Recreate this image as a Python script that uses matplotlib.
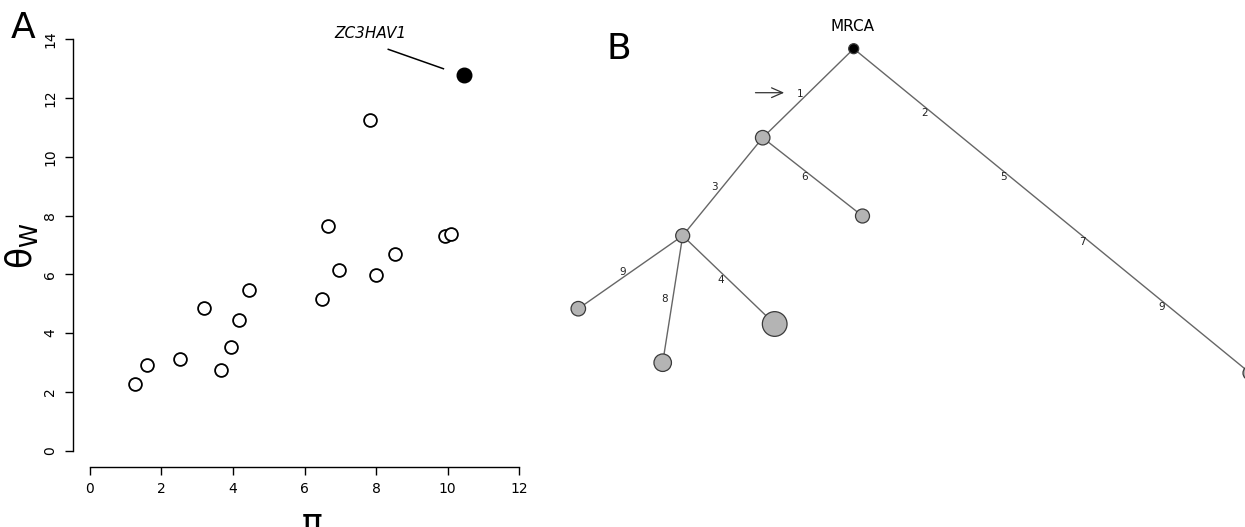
import matplotlib.pyplot as plt

# panel A: pi vs theta_W per gene
pi_vals = [1.27, 1.61, 2.53, 3.18, 3.68, 3.94, 4.17, 4.44, 6.50, 6.67,
           6.96, 7.83, 7.99, 8.53, 9.92, 10.10]
theta_vals = [2.26, 2.92, 3.11, 4.87, 2.74, 3.53, 4.46, 5.45, 5.16, 7.66,
              6.16, 11.26, 5.99, 6.70, 7.32, 7.38]
outlier_pi = [10.45]
outlier_theta = [12.78]
outlier_name = 'ZC3HAV1'
x_ticks = [0, 2, 4, 6, 8, 10, 12]
y_ticks = [0, 2, 4, 6, 8, 10, 12, 14]

# panel B: haplotype tree (layout coordinates)
node_x = [853.7, 762.7, 682.7, 862.5, 578.3, 662.7, 774.7, 1250.0]
node_y = [48.7, 137.7, 235.7, 216.0, 308.7, 362.7, 324.0, 373.0]
node_size = [10, 14.5, 14, 14, 14.5, 17.5, 24.7, 14]
edges = [(0, 1), (0, 7), (1, 2), (1, 3), (2, 4), (2, 5), (2, 6)]
edge_labels = ['1', '2', '5', '7', '9', '3', '6', '9', '8', '4']
edge_label_x = [800.0, 925.0, 1004.0, 1082.0, 1161.5, 714.0, 804.6, 622.3, 664.3, 720.7]
edge_label_y = [94.0, 113.0, 177.5, 242.0, 306.7, 186.7, 176.7, 272.0, 299.3, 280.0]

fig = plt.figure(figsize=(12.45, 5.27), dpi=100)

# ---- panel A
ax = fig.add_axes([72.5 / 1245, 60 / 527, 464 / 1245, 444.1 / 527])
ax.scatter(pi_vals, theta_vals, s=85, facecolors='white', edgecolors='black',
           linewidths=1.3, zorder=3)
ax.scatter(outlier_pi, outlier_theta, s=110, color='black', zorder=3)
ax.plot([8.34, 9.88], [13.66, 13.0], color='black', lw=1.1)
ax.text(7.83, 14.2, outlier_name, style='italic', fontsize=11, ha='center', va='center')

ax.set_xlim(-0.48, 12.48)
ax.set_ylim(-0.56, 14.56)
ax.set_xticks(x_ticks)
ax.set_yticks(y_ticks)
for side in ['top', 'right']:
    ax.spines[side].set_visible(False)
ax.spines['left'].set_bounds(0, 14)
ax.spines['bottom'].set_bounds(0, 12)
ax.spines['left'].set_linewidth(1.0)
ax.spines['bottom'].set_linewidth(1.0)
ax.tick_params(direction='out', length=6, width=1.0, labelsize=10, pad=5)
ax.tick_params(axis='y', labelrotation=90)
for lab in ax.get_yticklabels():
    lab.set_va('center')
ax.patch.set_visible(False)

fig.text(23 / 1245, 1 - 38.3 / 527, 'A', fontsize=26, ha='center', va='baseline')
fig.text(21 / 1245, 1 - 246 / 527, r'$\mathregular{θ_W}$', fontsize=25,
         rotation=90, ha='center', va='center')
fig.text(312 / 1245, 1 - 506 / 527, 'π', fontsize=25, ha='center', va='top')

# ---- panel B
bx = fig.add_axes([560 / 1245, 0, 685 / 1245, 1])
bx.set_xlim(560, 1245)
bx.set_ylim(527, 0)
bx.axis('off')

for a, b in edges:
    bx.plot([node_x[a], node_x[b]], [node_y[a], node_y[b]], color='#666666',
            lw=1.0, zorder=1, clip_on=False)

sizes = [(d * 0.72) ** 2 for d in node_size]
colors = ['black'] + ['#b4b4b4'] * (len(node_x) - 1)
bx.scatter(node_x, node_y, s=sizes, c=colors, edgecolors='#3a3a3a',
           linewidths=0.9, zorder=3, clip_on=False)

for t, x, y in zip(edge_labels, edge_label_x, edge_label_y):
    bx.text(x, y, t, fontsize=7.5, ha='center', va='center', color='#222222')

bx.text(852.3, 26.7, 'MRCA', fontsize=11, ha='center', va='center')
bx.annotate('', xy=(787, 92.7), xytext=(752.7, 92.7),
            arrowprops=dict(arrowstyle='->,head_length=0.8,head_width=0.35',
                            color='#333333', lw=0.9))
fig.text(619 / 1245, 1 - 59 / 527, 'B', fontsize=26, ha='center', va='baseline')

plt.savefig('out.png', dpi=100)
